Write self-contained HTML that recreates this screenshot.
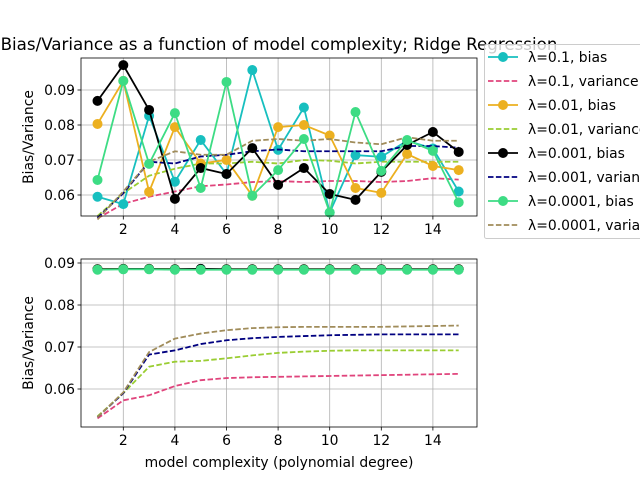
<!DOCTYPE html>
<html><head><meta charset="utf-8"><style>
body{margin:0;background:#fff;}
svg{display:block;font-family:"DejaVu Sans","Liberation Sans",sans-serif;}
</style></head><body>
<svg id="c" width="640" height="480"></svg>
<script>
const degrees=[1,2,3,4,5,6,7,8,9,10,11,12,13,14,15];
const xTicks=[2,4,6,8,10,12,14];
const topYTicks=[0.06,0.07,0.08,0.09];
const botYTicks=[0.06,0.07,0.08,0.09];
const labels=["0.1","0.01","0.001","0.0001"];
const topBias0=[0.0595,0.0574,0.0826,0.0638,0.0757,0.0660,0.0957,0.0729,0.0850,0.0550,0.0714,0.0709,0.0755,0.0733,0.0610];
const topBias1=[0.0803,0.0926,0.0609,0.0794,0.0690,0.0700,0.0598,0.0794,0.0800,0.0770,0.0620,0.0606,0.0717,0.0683,0.0671];
const topBias2=[0.0869,0.0971,0.0843,0.0589,0.0677,0.0660,0.0734,0.0629,0.0677,0.0603,0.0586,0.0666,0.0743,0.0780,0.0723];
const topBias3=[0.0643,0.0926,0.0689,0.0834,0.0620,0.0923,0.0598,0.0671,0.0760,0.0550,0.0837,0.0669,0.0757,0.0726,0.0579];
const topVar0=[0.0533,0.0575,0.0595,0.0610,0.0625,0.0630,0.0637,0.0640,0.0637,0.0640,0.0640,0.0637,0.0640,0.0648,0.0644];
const topVar1=[0.0540,0.0605,0.0655,0.0675,0.0690,0.0690,0.0695,0.0690,0.0700,0.0698,0.0690,0.0695,0.0695,0.0695,0.0695];
const topVar2=[0.0535,0.0605,0.0695,0.0690,0.0710,0.0715,0.0725,0.0730,0.0725,0.0725,0.0725,0.0725,0.0740,0.0740,0.0735];
const topVar3=[0.0530,0.0610,0.0695,0.0725,0.0715,0.0715,0.0755,0.0760,0.0755,0.0760,0.0750,0.0745,0.0765,0.0755,0.0755];
const botBias0=[0.0885,0.0886,0.0886,0.0885,0.0886,0.0885,0.0885,0.0885,0.0885,0.0885,0.0885,0.0885,0.0885,0.0885,0.0885];
const botBias1=[0.0885,0.0886,0.0886,0.0885,0.0885,0.0885,0.0885,0.0885,0.0885,0.0885,0.0885,0.0885,0.0885,0.0885,0.0885];
const botBias2=[0.0885,0.0886,0.0886,0.0885,0.0886,0.0885,0.0885,0.0885,0.0885,0.0885,0.0885,0.0885,0.0885,0.0885,0.0885];
const botBias3=[0.0884,0.0885,0.0885,0.0884,0.0884,0.0884,0.0884,0.0884,0.0884,0.0884,0.0884,0.0884,0.0884,0.0884,0.0884];
const botVar0=[0.0530,0.0573,0.0585,0.0607,0.0621,0.0626,0.0628,0.0629,0.0630,0.0631,0.0632,0.0633,0.0634,0.0635,0.0636];
const botVar1=[0.0535,0.0590,0.0653,0.0665,0.0667,0.0673,0.0680,0.0686,0.0689,0.0691,0.0692,0.0692,0.0692,0.0692,0.0692];
const botVar2=[0.0533,0.0590,0.0682,0.0692,0.0707,0.0716,0.0721,0.0724,0.0726,0.0728,0.0729,0.0730,0.0730,0.0730,0.0730];
const botVar3=[0.0533,0.0592,0.0688,0.0720,0.0732,0.0740,0.0745,0.0747,0.0748,0.0748,0.0748,0.0748,0.0749,0.0750,0.0751];

const biasColors=["#17bfbf","#ecb020","#000000","#3ddc84"];
const varColors=["#e0447c","#9acd32","#000080","#a08c5a"];
const NS="http://www.w3.org/2000/svg";
const svg=document.getElementById('c');
function mk(tag,attrs,parent){const e=document.createElementNS(NS,tag);for(const k in attrs)e.setAttribute(k,attrs[k]);(parent||svg).appendChild(e);return e;}
const X0=81,X1=477;
function xs(v){return 97.5+(v-1)*25.8;}
function panel(name,top,bot,yA,yB,yMin,biasArr,varArr,ticks,showX){
  const ys=v=>yA-(v-yMin)*yB;
  const g=mk('g',{});
  
  
  mk('rect',{x:X0,y:top,width:X1-X0,height:bot-top,fill:'#fff'},g);
  xTicks.forEach(t=>{const x=xs(t);
    const l=mk('line',{x1:x,x2:x,y1:top,y2:bot,stroke:'#b0b0b0','stroke-width':0.8},g);
    
    mk('line',{x1:x,x2:x,y1:bot,y2:bot+3.5,stroke:'#000','stroke-width':0.8},g);
    if(showX){const tx=mk('text',{x:x,y:bot+18,'font-size':13.9,'text-anchor':'middle'},g);tx.textContent=t;
      }
  });
  ticks.forEach(t=>{const y=ys(t);
    const l=mk('line',{x1:X0,x2:X1,y1:y,y2:y,stroke:'#b0b0b0','stroke-width':0.8},g);
    
    mk('line',{x1:X0-3.5,x2:X0,y1:y,y2:y,stroke:'#000','stroke-width':0.8},g);
    const tx=mk('text',{x:X0-6,y:y+5,'font-size':13.9,'text-anchor':'end'},g);tx.textContent=t.toFixed(2);
    
  });
  for(let s=0;s<4;s++){
    const bp=biasArr[s].map((v,i)=>xs(degrees[i])+','+ys(v)).join(' ');
    const vp=varArr[s].map((v,i)=>xs(degrees[i])+','+ys(v)).join(' ');
    const vl=mk('polyline',{points:vp,fill:'none',stroke:varColors[s],'stroke-width':1.8,'stroke-dasharray':'5.5,2.4'},g);
    
    const bl=mk('polyline',{points:bp,fill:'none',stroke:biasColors[s],'stroke-width':1.8},g);
    
    biasArr[s].forEach((v,i)=>{const c=mk('circle',{cx:xs(degrees[i]),cy:ys(v),r:5,fill:biasColors[s]},g);
      });
  }
  mk('rect',{x:X0,y:top,width:X1-X0,height:bot-top,fill:'none',stroke:'#000','stroke-width':0.8},g);
  const yl=mk('text',{x:0,y:0,'font-size':13.9,'text-anchor':'middle',transform:`translate(33,${(top+bot)/2}) rotate(-90)`},g);
  yl.textContent='Bias/Variance';
  
}
panel('top-panel',58,216,195,3500,0.06,[topBias0,topBias1,topBias2,topBias3],[topVar0,topVar1,topVar2,topVar3],topYTicks,true);
panel('bottom-panel',259,427,389,4200,0.06,[botBias0,botBias1,botBias2,botBias3],[botVar0,botVar1,botVar2,botVar3],botYTicks,true);
const t=mk('text',{x:279,y:50,'font-size':16.7,'text-anchor':'middle'});
t.textContent='Bias/Variance as a function of model complexity; Ridge Regression';

const xl=mk('text',{x:279,y:467,'font-size':13.9,'text-anchor':'middle'});
xl.textContent='model complexity (polynomial degree)';

// legend
const lg=mk('g',{});

mk('rect',{x:484.5,y:44.5,width:170,height:194,rx:2,fill:'#fff',stroke:'#ccc','stroke-width':1,'fill-opacity':0.8},lg);
for(let s=0;s<4;s++){
  const yb=57+s*48, yv=yb+24;
  const e1=mk('g',{},lg);
  
  mk('line',{x1:488,x2:518,y1:yb,y2:yb,stroke:biasColors[s],'stroke-width':1.8},e1);
  mk('circle',{cx:503,cy:yb,r:5,fill:biasColors[s]},e1);
  const t1=mk('text',{x:528,y:yb+5,'font-size':13.9},e1);t1.textContent='λ='+labels[s]+', bias';
  const e2=mk('g',{},lg);
  
  mk('line',{x1:488,x2:518,y1:yv,y2:yv,stroke:varColors[s],'stroke-width':1.8,'stroke-dasharray':'5.5,2.4'},e2);
  const t2=mk('text',{x:528,y:yv+5,'font-size':13.9},e2);t2.textContent='λ='+labels[s]+', variance';
}
</script>
</body></html>
